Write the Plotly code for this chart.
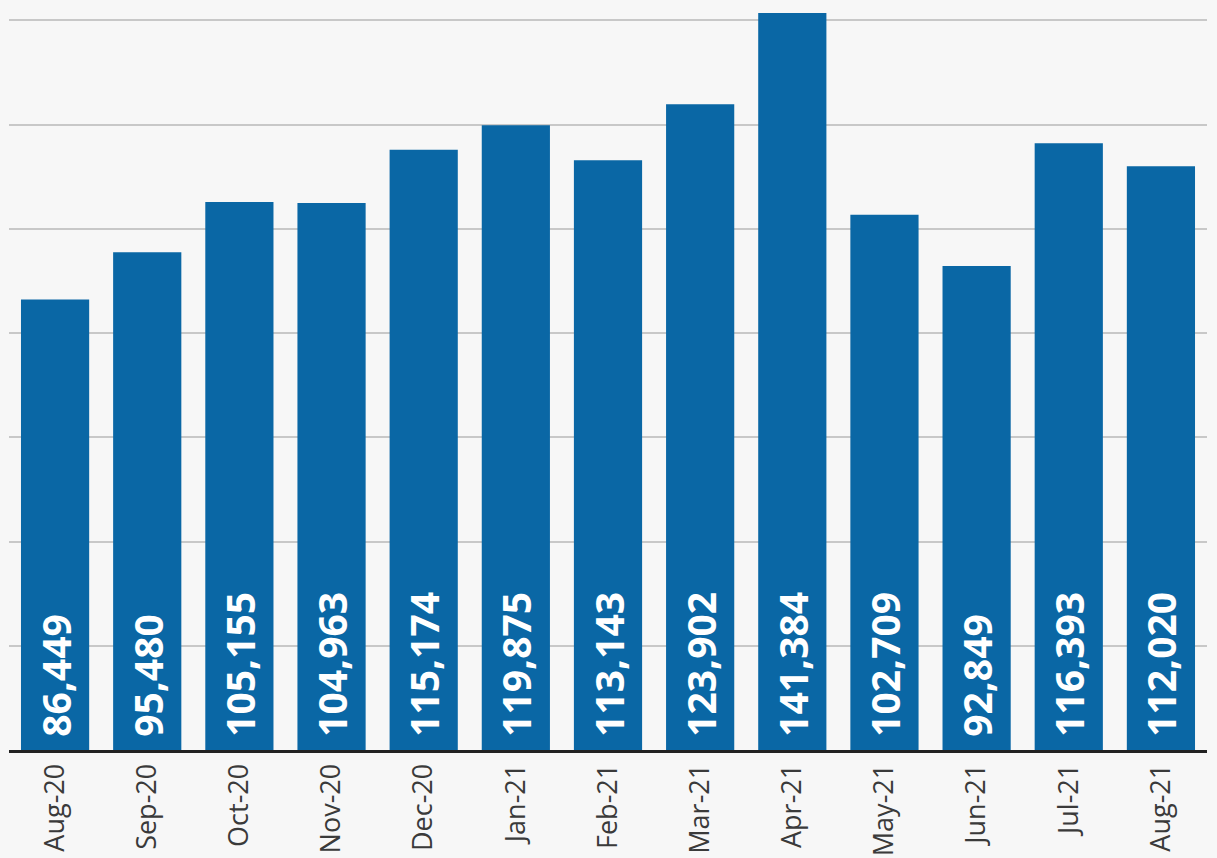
import plotly.graph_objects as go

months = ["Aug-20", "Sep-20", "Oct-20", "Nov-20", "Dec-20", "Jan-21", "Feb-21",
          "Mar-21", "Apr-21", "May-21", "Jun-21", "Jul-21", "Aug-21"]
values = [86449, 95480, 105155, 104963, 115174, 119875, 113143,
          123902, 141384, 102709, 92849, 116393, 112020]
labels = [f"\u00a0{v:,}" for v in values]

fig = go.Figure(go.Bar(
    x=months, y=values,
    text=labels,
    textposition="inside",
    insidetextanchor="start",
    textangle=-90,
    texttemplate="%{text}",
    textfont=dict(family="Open Sans", size=39, color="white", weight="bold"),
    marker=dict(color="#0a67a5", line=dict(width=0)),
    cliponaxis=False,
))

fig.update_layout(
    width=1217, height=858,
    margin=dict(l=9, r=10, t=0, b=108),
    paper_bgcolor="#f7f7f7",
    plot_bgcolor="#f7f7f7",
    bargap=0.26,
    showlegend=False,
    uniformtext=dict(mode=False),
)
fig.update_xaxes(
    tickangle=-90,
    tickfont=dict(family="Open Sans", size=27, color="#3a3a3a"),
    showline=True, linecolor="#222222", linewidth=3,
    ticks="", showgrid=False,
)
fig.update_yaxes(
    range=[0, 143900],
    dtick=20000,
    showticklabels=False,
    showgrid=True, gridcolor="#c8c8c8", gridwidth=1.5,
    zeroline=False,
)

fig.write_html("out.html", config={"displayModeBar": False},
               post_script="document.body.style.margin='0';document.body.style.overflow='hidden';")
